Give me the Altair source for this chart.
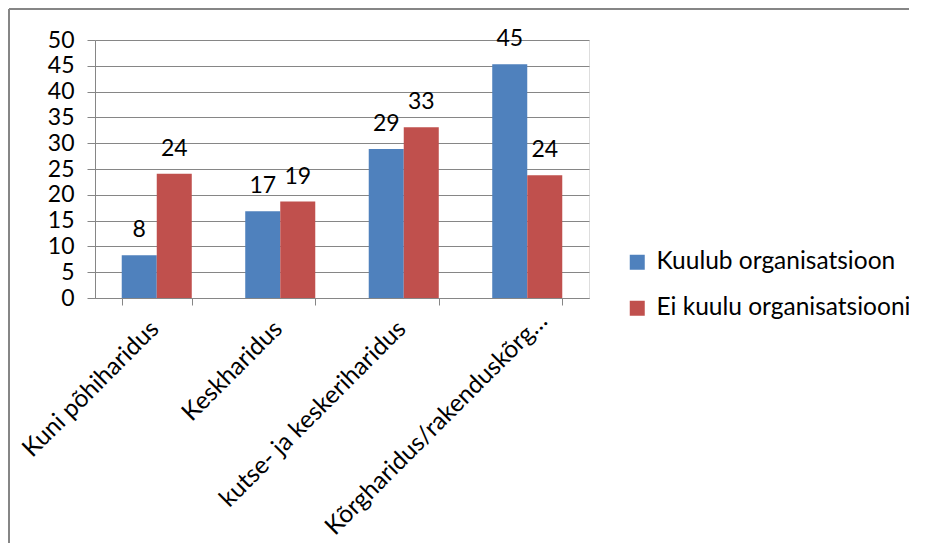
import altair as alt
import pandas as pd

categories = ["Kuni põhiharidus", "Keskharidus", "kutse- ja keskeriharidus", "Kõrgharidus/rakenduskõrg…"]
series = ["Kuulub organisatsioon", "Ei kuulu organisatsiooni"]
kuulub = [8.3, 16.8, 28.9, 45.3]
ei_kuulu = [24.1, 18.7, 33.1, 23.8]
y_ticks = [0, 5, 10, 15, 20, 25, 30, 35, 40, 45, 50]
colors = ["#4F81BD", "#C0504D"]

rows = []
for c, a, b in zip(categories, kuulub, ei_kuulu):
    rows.append({"cat": c, "series": series[0], "value": a, "label": str(round(a))})
    rows.append({"cat": c, "series": series[1], "value": b, "label": str(round(b))})
df = pd.DataFrame(rows)

FONT = "Lato"
FS = 24.5
FS_NUM = 23
GRAY = "#868686"
W, H = 494, 258

last_test = f"datum.value == '{categories[-1]}'"

x = alt.X(
    "cat:N", sort=categories,
    scale=alt.Scale(paddingInner=0.433, paddingOuter=0.2165),
    axis=alt.Axis(title=None, labelAngle=-45, labelAlign="right", labelBaseline="middle",
                  labelPadding={"condition": {"test": last_test, "value": 12}, "value": 20},
                  labelOffset={"condition": {"test": last_test, "value": 16}, "value": -2},
                  labelFontSize=FS, labelColor="black",
                  labelFont=FONT, tickBand="extent", tickSize=7, tickColor=GRAY,
                  domainColor=GRAY, grid=False, labelLimit=400, labelOverlap=False),
)
xo = alt.XOffset("series:N", sort=series)
y = alt.Y(
    "value:Q", scale=alt.Scale(domain=[0, 50], nice=False),
    axis=alt.Axis(title=None, values=y_ticks, tickSize=8, labelPadding=13, labelFontSize=FS_NUM,
                  labelColor="black", labelFont=FONT, tickColor=GRAY, domainColor=GRAY,
                  gridColor=GRAY, gridOpacity=1, grid=True, labelOverlap=False),
)
color = alt.Color(
    "series:N", sort=series,
    scale=alt.Scale(domain=series, range=colors),
    legend=alt.Legend(title=None, orient="none", legendX=530, legendY=210, symbolType="square",
                      symbolSize=225, symbolStrokeWidth=0, labelFontSize=FS, labelFont=FONT,
                      labelColor="black", labelOffset=7, rowPadding=21, labelLimit=400),
)

bars = alt.Chart(df).mark_bar().encode(x=x, xOffset=xo, y=y, color=color)
labels = alt.Chart(df).mark_text(dy=-18, baseline="alphabetic", fontSize=FS_NUM, font=FONT,
                                 color="black").encode(
    x=x, xOffset=xo, y=y, text="label:N")

border_left = alt.Chart(df).mark_rule(color=GRAY, strokeWidth=1.5).encode(
    x=alt.value(-86), y=alt.value(-31), y2=alt.value(520))
border_top = alt.Chart(df).mark_rule(color=GRAY, strokeWidth=1.5).encode(
    x=alt.value(-86), x2=alt.value(840), y=alt.value(-31))

chart = alt.layer(bars, labels, border_left, border_top).properties(
    width=W, height=H,
    autosize=alt.AutoSizeParams(type="none"),
    padding={"left": 87, "top": 32, "right": 320, "bottom": 245},
).configure_view(stroke=None).configure(background="white")

chart.save("out.html", embed_options={"renderer": "svg", "actions": False})
